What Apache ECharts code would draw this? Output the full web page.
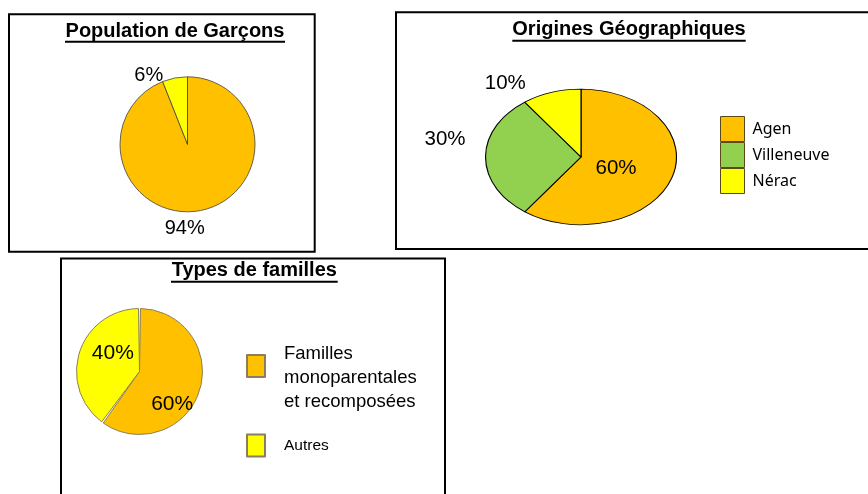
<!DOCTYPE html>
<html lang="fr">
<head>
<meta charset="UTF-8">
<title>Garçons, origines, familles</title>
<script src="https://cdn.jsdelivr.net/npm/echarts@6/dist/echarts.min.js"></script>
<style>
    body { margin: 0; background: #fff; }
    #wrap { position: relative; width: 868px; height: 494px; overflow: hidden; }
    #main { position: absolute; left: 0; top: 0; width: 868px; height: 494px; z-index: 2; }
    /* le camembert ovale : un pie normal étiré en largeur */
    #ovale { position: absolute; left: 510.5px; top: 86.7px; width: 140px; height: 140px; z-index: 1;
             transform: scaleX(1.408); transform-origin: 50% 50%; }
</style>
</head>
<body>
<div id="wrap">
    <div id="ovale"></div>
    <div id="main"></div>
</div>
<script>
    // données
    const garconsNoms = ['Garçons', 'Filles'];
    const garconsValeurs = [94, 6];
    const originesNoms = ['Agen', 'Villeneuve', 'Nérac'];
    const originesValeurs = [60, 30, 10];
    const famillesNoms = ['Familles monoparentales et recomposées', 'Autres'];
    const famillesValeurs = [60, 40];

    const ORANGE = '#FFC000', VERT = '#92D050', JAUNE = '#FFFF00';
    const couleursGarcons = [ORANGE, JAUNE];
    const couleursOrigines = [ORANGE, VERT, JAUNE];
    const couleursFamilles = [ORANGE, JAUNE];

    // où Excel a posé les étiquettes (centre du texte)
    const posGarcons = [[184.7, 228.5], [148.8, 75.5]];
    const posOrigines = [[616, 168.8], [445, 139.7], [505.3, 83.3]];
    const posFamilles = [[172.2, 403.8], [112.8, 353]];

    const ARIAL = 'Arial, "Liberation Sans", sans-serif';

    function donnees(noms, valeurs, couleurs) {
        return noms.map((n, i) => ({ name: n, value: valeurs[i], itemStyle: { color: couleurs[i] } }));
    }
    function placer(pos) {
        return function (p) {
            const xy = pos[p.dataIndex];
            return { x: xy[0], y: xy[1], align: 'center', verticalAlign: 'middle' };
        };
    }
    function titre(texte, x, y, x1, x2, yLigne) {
        return [
            { type: 'text', x: x, y: y, style: { text: texte, font: 'bold 20px ' + ARIAL, fill: '#000', align: 'center', verticalAlign: 'middle' } },
            { type: 'line', shape: { x1: x1, y1: yLigne, x2: x2, y2: yLigne }, style: { stroke: '#000', lineWidth: 2 } }
        ];
    }
    function cadre(x, y, w, h) {
        return { type: 'rect', shape: { x: x, y: y, width: w, height: h }, style: { fill: 'none', stroke: '#000', lineWidth: 2 } };
    }

    // camembert ovale (svg pour rester net une fois étiré)
    const ovale = echarts.init(document.getElementById('ovale'), null, { renderer: 'svg' });
    ovale.setOption({
        animation: false,
        series: [{
            type: 'pie',
            center: ['50%', '50%'],
            radius: 67.8,
            startAngle: 90,
            silent: true,
            label: { show: false },
            labelLine: { show: false },
            itemStyle: { borderColor: '#000', borderWidth: 0.8 },
            data: donnees(originesNoms, originesValeurs, couleursOrigines)
        }]
    });

    const chart = echarts.init(document.getElementById('main'));
    chart.setOption({
        animation: false,
        graphic: [
            cadre(9, 14.3, 305.7, 237.4),
            cadre(396, 12.3, 474, 236.7),
            cadre(61, 258.5, 384, 240),
            ...titre('Population de Garçons', 175, 31, 65, 285, 41.7),
            ...titre('Origines Géographiques', 629, 29.5, 512.3, 745.7, 40.7),
            ...titre('Types de familles', 254.3, 270.5, 171, 337.7, 281.7)
        ],
        legend: [
            {
                orient: 'vertical', left: 720, top: 116, padding: 0, itemGap: 0,
                itemWidth: 24, itemHeight: 25, icon: 'rect', selectedMode: false,
                textStyle: { fontFamily: '"Noto Sans", sans-serif', fontSize: 16, color: '#000', padding: [0, 0, 0, 3] },
                data: originesNoms.map((n, i) => ({ name: n, itemStyle: { color: couleursOrigines[i], opacity: 1, borderColor: '#5a4a1a', borderWidth: 1 } }))
            },
            {
                // ligne vide en tête : le bloc descend d'une demi-ligne par rapport au carré
                left: 246, top: 318.6, padding: 0, itemWidth: 18, itemHeight: 22, icon: 'rect', selectedMode: false,
                formatter: () => '\nFamilles\nmonoparentales\net recomposées',
                textStyle: { fontFamily: ARIAL, fontSize: 18.5, lineHeight: 23.7, color: '#000', padding: [0, 0, 0, 14] },
                data: [famillesNoms[0]]
            },
            {
                left: 246, top: 433.5, padding: 0, itemWidth: 18, itemHeight: 22, icon: 'rect', selectedMode: false,
                textStyle: { fontFamily: ARIAL, fontSize: 15.5, color: '#000', padding: [0, 0, 0, 14] },
                data: [famillesNoms[1]]
            }
        ],
        series: [
            {
                name: 'garcons', type: 'pie', center: [187.5, 144.3], radius: 67.5, startAngle: 90, silent: true,
                itemStyle: { borderColor: '#404040', borderWidth: 0.8 },
                label: { position: 'inside', formatter: '{c}%', fontFamily: ARIAL, fontSize: 20, color: '#000' },
                labelLine: { show: false },
                labelLayout: placer(posGarcons),
                data: donnees(garconsNoms, garconsValeurs, couleursGarcons)
            },
            {
                // étiquettes du camembert ovale (les parts sont dessinées dans #ovale)
                name: 'origines', type: 'pie', center: [580.5, 156.5], radius: 67.8, startAngle: 90, silent: true,
                itemStyle: { color: 'rgba(0,0,0,0)', borderWidth: 0 },
                label: { position: 'inside', formatter: '{c}%', fontFamily: ARIAL, fontSize: 20.5, color: '#000' },
                labelLine: { show: false },
                labelLayout: placer(posOrigines),
                data: originesNoms.map((n, i) => ({ name: n, value: originesValeurs[i] }))
            },
            {
                name: 'familles', type: 'pie', center: [139.5, 371.5], radius: 63, startAngle: 90, silent: true,
                padAngle: 1.8,
                itemStyle: { borderColor: '#8a7f5a', borderWidth: 1 },
                label: { position: 'inside', formatter: '{c}%', fontFamily: ARIAL, fontSize: 21, color: '#000' },
                labelLine: { show: false },
                labelLayout: placer(posFamilles),
                data: donnees(famillesNoms, famillesValeurs, couleursFamilles)
            }
        ]
    });
</script>
</body>
</html>
